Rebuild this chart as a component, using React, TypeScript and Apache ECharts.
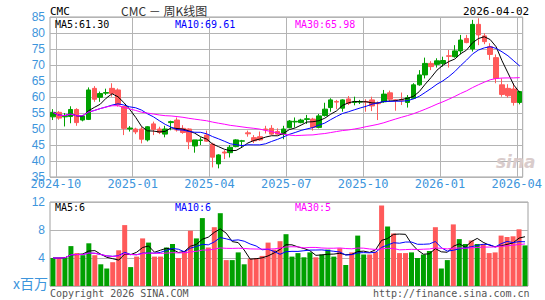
import React, { useEffect, useRef } from "react";
import * as echarts from "echarts";

// Weekly OHLC (US colours: green = up, red = down)
const opens = [
  53.8, 55.2, 53.8, 53.9, 56.1, 52.8, 53.0, 62.7, 59.9, 61.2,
  62.7, 62.2, 57.0, 50.0, 50.0, 50.0, 46.6, 51.6, 50.0, 48.4,
  52.0, 52.8, 50.2, 50.0, 44.7, 46.4, 48.1, 45.3, 39.1, 42.8,
  42.6, 44.5, 46.2, 48.8, 47.3, 47.6, 50.0, 50.2, 49.2, 48.3,
  50.4, 52.2, 52.0, 53.0, 53.1, 50.5, 54.2, 56.7, 58.6, 56.5,
  59.4, 58.3, 58.4, 58.6, 59.1, 58.1, 58.5, 61.3, 59.1, 59.2,
  58.3, 59.6, 63.8, 66.9, 70.5, 70.2, 70.5, 72.9, 72.6, 74.4,
  78.3, 75.0, 82.7, 79.1, 75.7, 72.3, 63.8, 62.7, 62.5, 58.3,
];
const closes = [
  55.2, 53.4, 54.0, 56.1, 52.0, 54.1, 62.2, 59.3, 61.1, 61.4,
  61.1, 57.5, 50.2, 50.3, 49.1, 46.8, 50.7, 49.9, 48.9, 50.0,
  52.3, 49.7, 48.9, 46.0, 46.6, 46.6, 46.2, 41.2, 41.9, 42.5,
  44.3, 46.6, 46.3, 48.5, 46.3, 46.6, 49.7, 48.4, 48.4, 50.0,
  52.5, 52.4, 52.8, 53.2, 50.5, 54.1, 56.2, 59.1, 58.4, 59.1,
  58.0, 58.5, 58.6, 58.4, 57.2, 57.9, 60.9, 59.3, 59.0, 59.0,
  59.8, 63.8, 66.9, 70.5, 69.5, 71.3, 71.4, 72.7, 74.4, 77.8,
  77.0, 82.7, 79.4, 77.3, 73.3, 65.8, 60.8, 60.4, 58.3, 61.7,
];
const lows = [
  52.8, 52.9, 50.8, 51.8, 51.0, 52.4, 52.8, 58.5, 58.5, 60.6,
  60.1, 57.0, 48.1, 49.2, 48.4, 45.5, 46.1, 48.1, 48.4, 47.4,
  49.6, 49.2, 48.5, 43.7, 42.6, 45.0, 46.0, 38.0, 37.7, 40.6,
  41.1, 44.3, 44.3, 47.6, 45.6, 46.3, 48.6, 48.1, 48.1, 46.8,
  50.2, 50.5, 51.8, 51.6, 49.5, 50.2, 53.9, 55.4, 56.2, 55.4,
  57.5, 57.4, 57.8, 55.4, 55.6, 52.8, 58.2, 58.5, 55.7, 57.5,
  56.7, 59.4, 63.5, 65.8, 68.4, 69.2, 69.5, 69.2, 72.3, 73.3,
  76.8, 74.2, 76.2, 76.5, 71.6, 64.3, 60.1, 59.8, 57.3, 57.7,
];
const highs = [
  56.2, 55.6, 55.0, 57.1, 56.5, 54.4, 63.0, 63.4, 61.7, 62.6,
  64.3, 62.7, 57.2, 50.9, 50.4, 50.7, 50.9, 52.3, 50.7, 51.0,
  52.6, 53.6, 51.2, 50.2, 46.6, 47.4, 49.5, 45.7, 42.1, 43.4,
  45.0, 46.8, 46.6, 49.5, 48.1, 49.2, 51.0, 51.2, 50.2, 51.0,
  52.8, 53.6, 53.2, 54.4, 53.5, 54.7, 58.2, 59.6, 59.1, 59.3,
  60.3, 60.1, 59.1, 59.3, 60.1, 58.6, 62.2, 62.0, 59.3, 61.4,
  60.6, 64.3, 68.4, 72.3, 71.2, 72.1, 72.6, 74.7, 76.2, 79.4,
  79.4, 84.1, 84.6, 79.9, 76.8, 73.3, 65.8, 64.0, 64.3, 61.9,
];
// Weekly volume, millions
const volumes = [
  4.0, 4.0, 4.1, 5.7, 4.7, 4.4, 6.1, 4.4, 3.1, 2.5,
  3.4, 5.1, 8.7, 2.7, 4.2, 6.8, 6.2, 4.2, 4.2, 5.5,
  6.0, 4.0, 5.0, 7.9, 6.8, 9.7, 5.5, 8.4, 10.4, 3.7,
  3.7, 4.8, 3.1, 3.9, 4.0, 4.3, 6.2, 5.2, 6.4, 7.4,
  4.2, 4.7, 4.1, 4.8, 4.1, 4.5, 5.2, 4.2, 5.4, 3.0,
  4.8, 7.2, 4.5, 4.5, 4.9, 11.5, 8.5, 7.5, 4.7, 4.7,
  4.8, 4.0, 4.5, 5.0, 8.4, 2.5, 3.7, 8.8, 6.7, 6.0,
  6.5, 6.0, 6.0, 4.7, 4.8, 7.2, 7.0, 7.1, 8.1, 5.8,
];

const firstWeek = "2024-09-27";
const lastDay = "2026-04-02";
const priceMin = 35;
const priceMax = 85;
const priceStep = 5;
const volMin = 0;
const volMax = 12;
const volStep = 4;

const symbol = "CMC";
const titleText = "CMC － 周K线图";
const priceLegend = ["MA5:61.30", "MA10:69.61", "MA30:65.98"];
const volLegend = ["MA5:6", "MA10:6", "MA30:5"];
const volUnit = "x百万";
const copyright = "Copyright 2026 SINA.COM";
const siteUrl = "http://finance.sina.com.cn";

const UP = "#00a000";
const DOWN = "#ff5a5a";
const AXIS_BLUE = "#3d95dc";
const GRID = "#b4b4b4";
const MA_COLORS = ["#000000", "#0000ff", "#ff00ff"];

function buildDates(n: number): string[] {
  const start = Date.parse(firstWeek + "T00:00:00Z");
  const out: string[] = [];
  for (let i = 0; i < n; i++) {
    out.push(new Date(start + i * 7 * 86400000).toISOString().slice(0, 10));
  }
  out[n - 1] = lastDay;
  return out;
}

function movingAvg(arr: number[], n: number): number[] {
  return arr.map((_, i) => {
    const s = Math.max(0, i - n + 1);
    const w = arr.slice(s, i + 1);
    return +(w.reduce((a, b) => a + b, 0) / w.length).toFixed(3);
  });
}

const dates = buildDates(opens.length);

function isQuarterStart(i: number): boolean {
  if (i <= 0) return false;
  const m = dates[i].slice(5, 7);
  const pm = dates[i - 1].slice(5, 7);
  return m !== pm && ["01", "04", "07", "10"].includes(m);
}

export default function App() {
  const ref = useRef<HTMLDivElement>(null);

  useEffect(() => {
    if (!ref.current) return;
    const chart = echarts.init(ref.current, undefined, { renderer: "svg" });
    const ohlc = opens.map((o, i) => [o, closes[i], lows[i], highs[i]]);
    const volData = volumes.map((v, i) => ({
      value: v,
      itemStyle: { color: closes[i] >= opens[i] ? UP : DOWN },
    }));
    const mono = "DejaVu Sans Mono";
    const txt = (x: number, y: number, s: string, fill: string, size = 10, font = mono, extra: any = {}) => ({
      type: "text",
      x,
      y,
      style: { text: s, fill, font: `${size}px '${font}'`, verticalAlign: "middle", ...extra },
      z: 100,
    });

    const catAxisBase = {
      type: "category",
      data: dates,
      boundaryGap: true,
      axisLine: { show: false },
      axisTick: { show: false },
    };

    chart.setOption({
      animation: false,
      backgroundColor: "#ffffff",
      grid: [
        { left: 50, top: 17, width: 478, height: 160, show: true, borderColor: "#a0a0a0", borderWidth: 1 },
        { left: 50, top: 202, width: 478, height: 84, show: true, borderColor: "#a0a0a0", borderWidth: 1 },
      ],
      xAxis: [
        {
          ...catAxisBase,
          gridIndex: 0,
          axisLabel: {
            interval: (i: number) => isQuarterStart(i),
            formatter: (v: string) => v.slice(0, 7),
            color: AXIS_BLUE,
            fontSize: 12,
            fontFamily: mono,
            margin: 1,
            padding: [0, 6, 0, 0],
          },
          splitLine: {
            show: true,
            interval: (i: number) => isQuarterStart(i),
            lineStyle: { color: GRID, width: 1 },
          },
        },
        {
          ...catAxisBase,
          gridIndex: 1,
          axisLabel: { show: false },
          splitLine: { show: false },
        },
      ],
      yAxis: [
        {
          type: "value",
          gridIndex: 0,
          min: priceMin,
          max: priceMax,
          interval: priceStep,
          axisLine: { show: false },
          axisTick: { show: false },
          axisLabel: { color: AXIS_BLUE, fontSize: 12, fontFamily: "Liberation Sans", margin: 5 },
          splitLine: { show: true, lineStyle: { color: GRID, width: 1 } },
        },
        {
          type: "value",
          gridIndex: 1,
          min: volMin,
          max: volMax,
          interval: volStep,
          axisLine: { show: false },
          axisTick: { show: false },
          axisLabel: {
            color: AXIS_BLUE,
            fontSize: 12,
            fontFamily: "Liberation Sans",
            margin: 5,
            formatter: (v: number) => (v === 0 ? "" : String(v)),
          },
          splitLine: { show: true, lineStyle: { color: GRID, width: 1 } },
        },
      ],
      series: [
        {
          type: "candlestick",
          xAxisIndex: 0,
          yAxisIndex: 0,
          data: ohlc,
          barWidth: 5,
          itemStyle: { color: UP, color0: DOWN, borderColor: UP, borderColor0: DOWN, borderWidth: 1 },
        },
        ...[5, 10, 30].map((n, j) => ({
          type: "line",
          xAxisIndex: 0,
          yAxisIndex: 0,
          data: movingAvg(closes, n),
          showSymbol: false,
          symbol: "none",
          lineStyle: { color: MA_COLORS[j], width: 1 },
          z: 3,
        })),
        {
          type: "bar",
          xAxisIndex: 1,
          yAxisIndex: 1,
          data: volData,
          barWidth: 5,
        },
        ...[5, 10, 30].map((n, j) => ({
          type: "line",
          xAxisIndex: 1,
          yAxisIndex: 1,
          data: movingAvg(volumes, n),
          showSymbol: false,
          symbol: "none",
          lineStyle: { color: MA_COLORS[j], width: 1 },
          z: 3,
        })),
      ],
      graphic: [
        txt(50, 11, symbol, "#000", 11),
        txt(121, 10, titleText, "#333", 12, "Noto Sans CJK SC"),
        txt(463, 11, lastDay, "#000", 11),
        txt(55, 24, priceLegend[0], MA_COLORS[0]),
        txt(175, 24, priceLegend[1], MA_COLORS[1]),
        txt(295, 24, priceLegend[2], MA_COLORS[2]),
        txt(55, 207, volLegend[0], MA_COLORS[0]),
        txt(175, 207, volLegend[1], MA_COLORS[1]),
        txt(295, 207, volLegend[2], MA_COLORS[2]),
        txt(13, 283, volUnit, AXIS_BLUE, 14, "Noto Sans CJK SC"),
        txt(50, 293, copyright, "#555", 10),
        txt(373, 293, siteUrl, "#555", 10),
        {
          type: "text",
          x: 496,
          y: 162,
          style: {
            text: "sina",
            fill: "#d9cccc",
            font: "italic bold 17px 'DejaVu Sans'",
            verticalAlign: "middle",
          },
          z: 1,
        },
      ],
    });
    return () => chart.dispose();
  }, []);

  return (
    <div
      ref={ref}
      style={{ position: "fixed", left: 0, top: 0, width: 545, height: 300, background: "#fff" }}
    />
  );
}
